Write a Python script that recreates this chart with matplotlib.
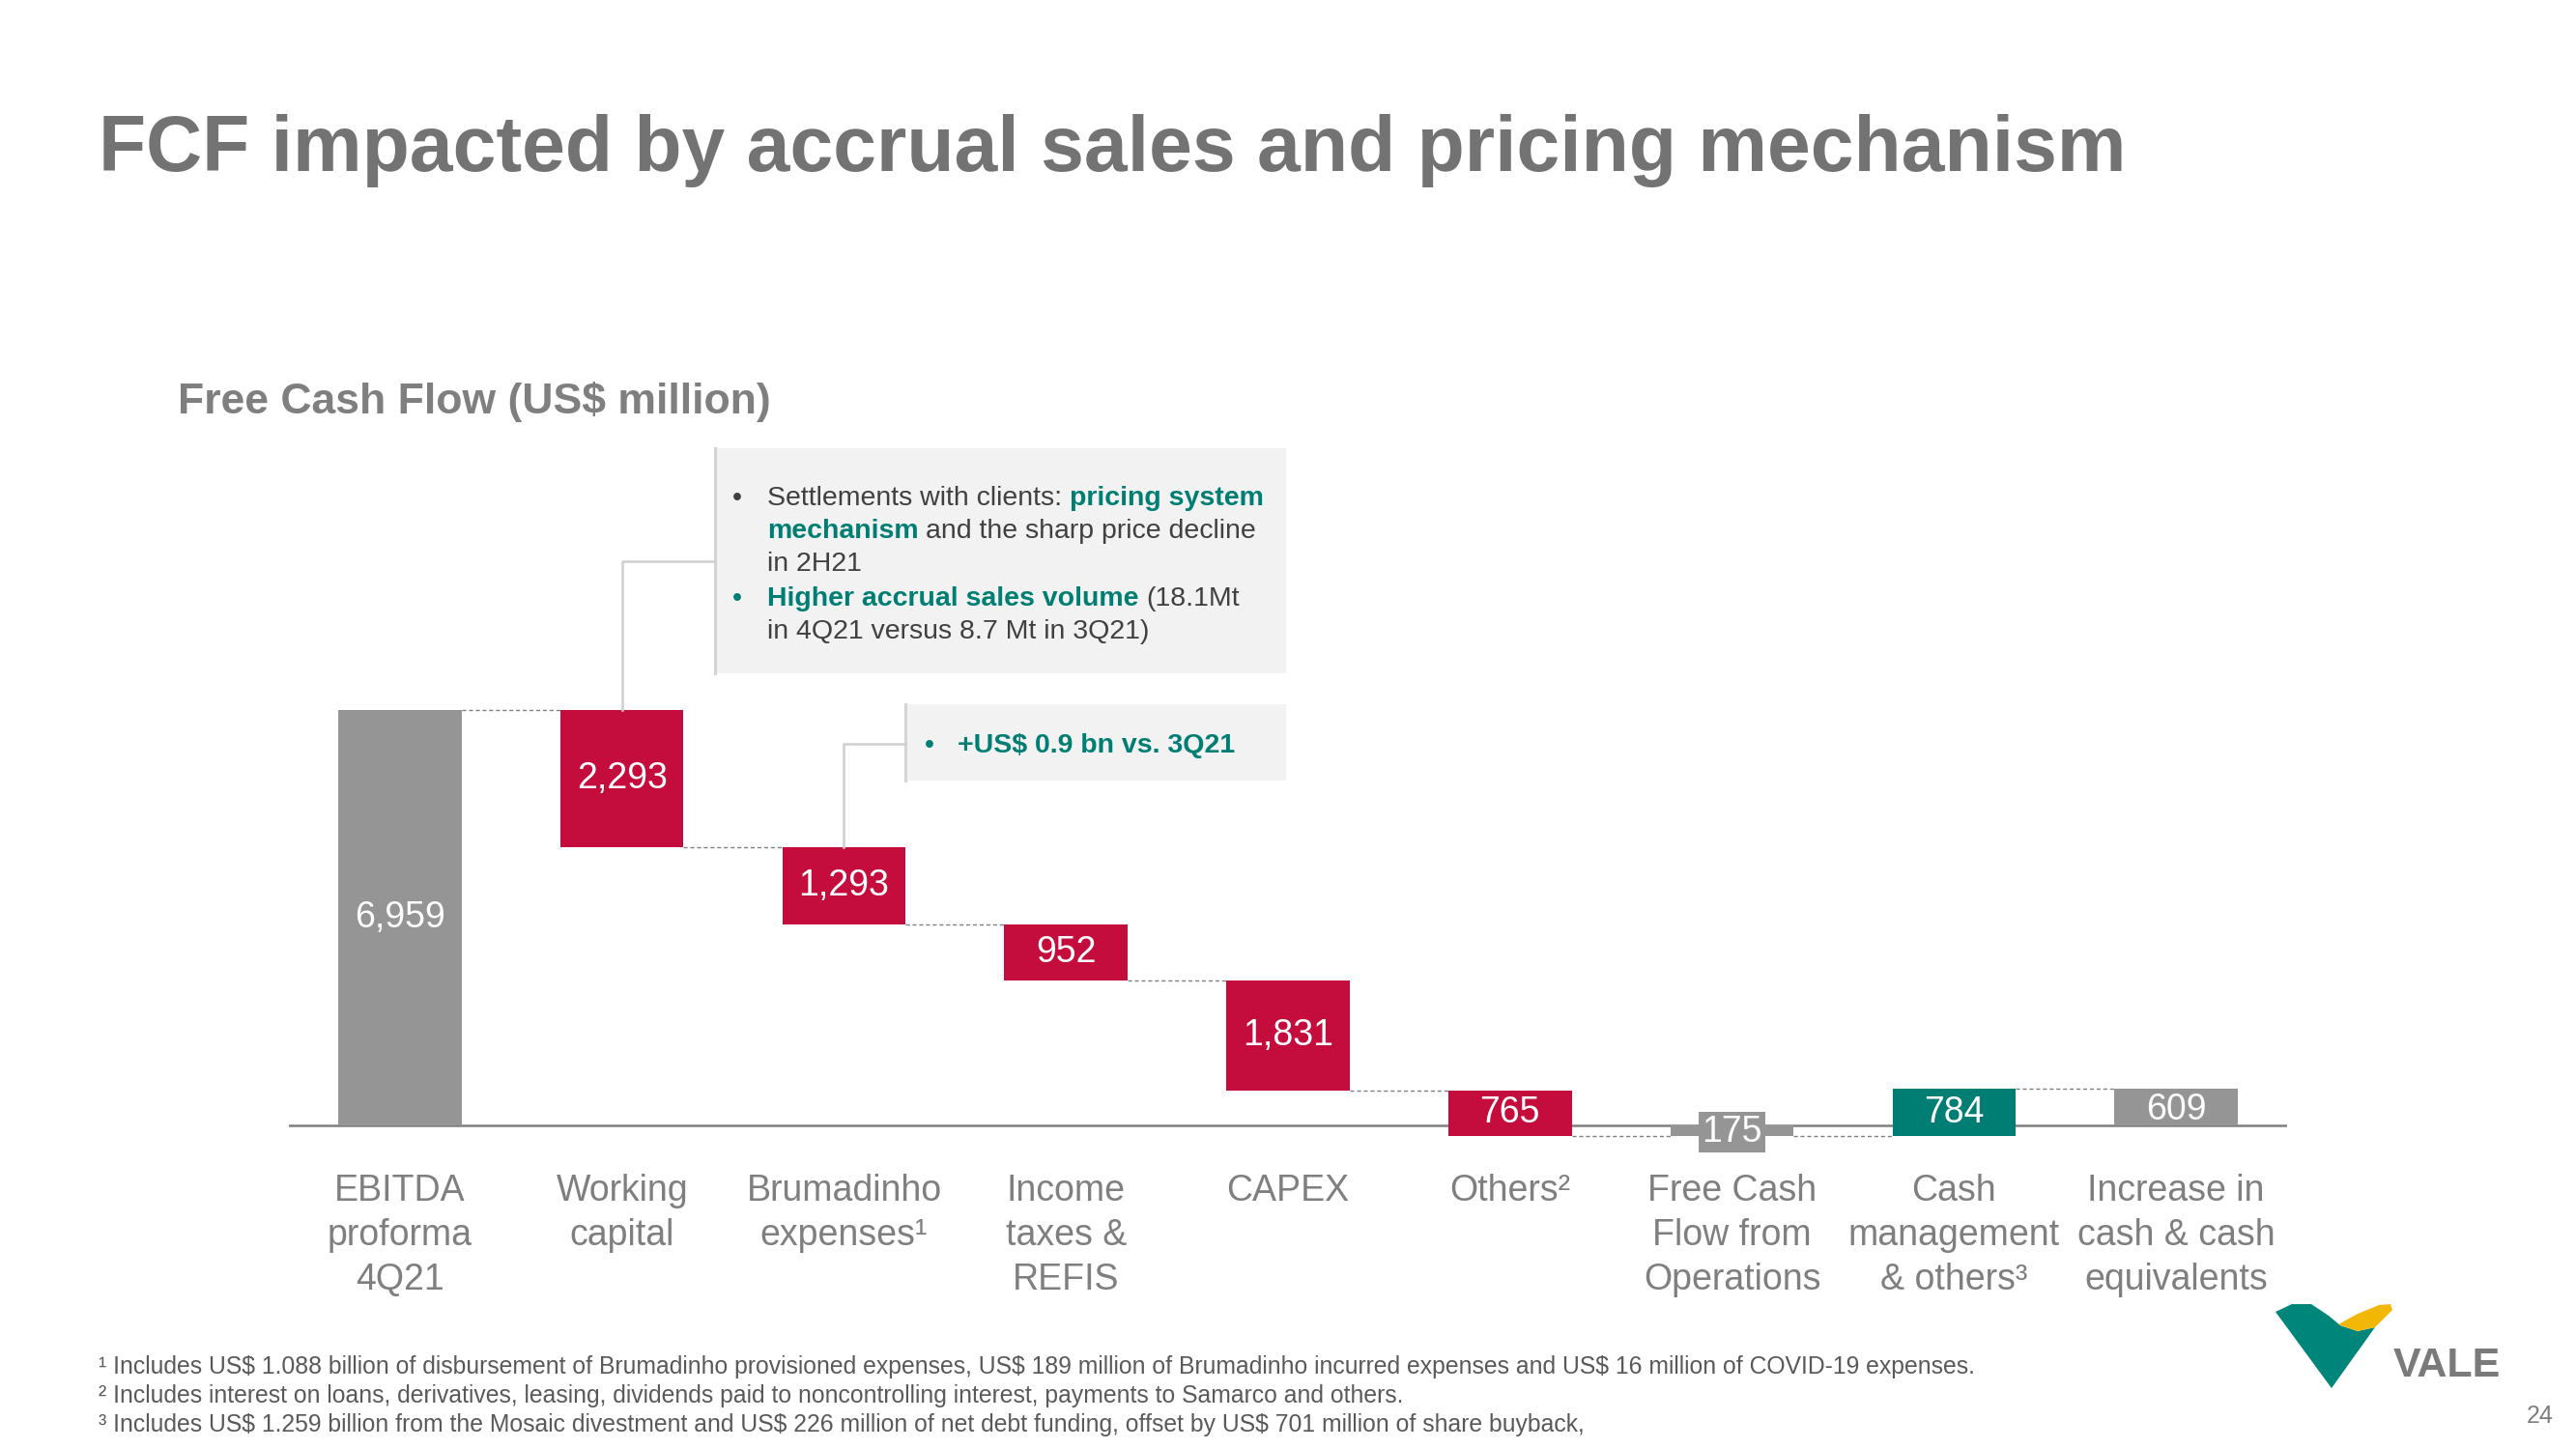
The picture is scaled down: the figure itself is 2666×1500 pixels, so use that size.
import matplotlib
matplotlib.use("Agg")
import matplotlib.pyplot as plt
from matplotlib.patches import Rectangle, Polygon
from matplotlib.lines import Line2D
from matplotlib import transforms

# data
categories = ["EBITDA\nproforma\n4Q21", "Working\ncapital", "Brumadinho\nexpenses¹",
              "Income\ntaxes &\nREFIS", "CAPEX", "Others²", "Free Cash\nFlow from\nOperations",
              "Cash\nmanagement\n& others³", "Increase in\ncash & cash\nequivalents"]
values = [6959, -2293, -1293, -952, -1831, -765, -175, 784, 609]
is_total = [True, False, False, False, False, False, True, False, True]

footnotes = [
    "¹ Includes US$ 1.088 billion of disbursement of Brumadinho provisioned expenses, US$ 189 million of Brumadinho incurred expenses and US$ 16 million of COVID-19 expenses.",
    "² Includes interest on loans, derivatives, leasing, dividends paid to noncontrolling interest, payments to Samarco and others.",
    "³ Includes US$ 1.259 billion from the Mosaic divestment and US$ 226 million of net debt funding, offset by US$ 701 million of share buyback,",
]

W, H = 2666, 1500
GRAY = "#959595"
RED = "#C40D3C"
TEAL = "#007E74"
TXT = "#7F7F7F"
DARK = "#404040"

plt.rcParams['font.family'] = ['Liberation Sans', 'DejaVu Sans']

fig = plt.figure(figsize=(W / 100, H / 100), dpi=100)
renderer = fig.canvas.get_renderer()


def fx(x):
    return x / W


def fy(y):
    return 1 - y / H


# main axes: baseline at y=1165 px, 0.0618 px per unit
ax = fig.add_axes([299 / W, 1 - 1226.8 / H, (2367 - 299) / W, 556 / H])
ax.set_xlim(-0.5, 8.5)
ax.set_ylim(-1000, 8000)
ax.axis('off')

bw = 0.555
bottoms, colors, levels = [], [], []
run = 0
for v, tot in zip(values, is_total):
    if tot:
        bottoms.append(0)
        run = v
        colors.append(GRAY)
    else:
        bottoms.append(run)
        run += v
        colors.append(TEAL if v > 0 else RED)
    levels.append(run)

ax.plot([-0.5, 8.5], [0, 0], color="#808080", lw=1.8, zorder=1)
ax.bar(range(len(values)), values, bottom=bottoms, width=bw, color=colors, zorder=2)

for i in range(len(values) - 1):
    ax.plot([i + bw / 2, i + 1 - bw / 2], [levels[i], levels[i]], color="#808080",
            lw=1, ls=(0, (3, 2)), zorder=1)

for i, v in enumerate(values):
    yc = bottoms[i] + v / 2
    kw = {}
    if i == 6:
        kw['bbox'] = dict(boxstyle='square,pad=0.08', fc=GRAY, ec='none')
        yc = -110
    if i == 8:
        yc -= 40
    ax.text(i, yc, f"{abs(v):,}", ha='center', va='center', color='white',
            fontsize=27, zorder=3, **kw)

trans = transforms.blended_transform_factory(ax.transData, fig.transFigure)
for i, c in enumerate(categories):
    ax.text(i, fy(1215), c, transform=trans, ha='center', va='top', ma='center',
            fontsize=27, color=TXT, linespacing=1.36)

# title and subtitle
fig.text(fx(102), fy(177), "FCF impacted by accrual sales and pricing mechanism",
         fontsize=58, fontweight='bold', color="#737373", va='baseline')
fig.text(fx(184), fy(428), "Free Cash Flow (US$ million)", fontsize=32,
         fontweight='bold', color="#7F7F7F", va='baseline')


# callout boxes
def box(x0, y0, x1, y1):
    fig.add_artist(Rectangle((fx(x0), fy(y1)), fx(x1 - x0), (y1 - y0) / H,
                             transform=fig.transFigure, fc="#F2F2F2", ec='none'))
    fig.add_artist(Line2D([fx(x0), fx(x0)], [fy(y0), fy(y1)], transform=fig.transFigure,
                          color="#D4D4D4", lw=2.2))


def connector(i, level, y_px, x_end):
    xp, yp = ax.transData.transform((i, level))
    yb = H - yp
    fig.add_artist(Line2D([fx(xp), fx(xp), fx(x_end)], [fy(yb), fy(y_px), fy(y_px)],
                          transform=fig.transFigure, color="#CFCFCF", lw=1.8))


box(740, 464, 1331, 697)
box(937, 729, 1331, 808)
connector(1, 6959, 581, 740)
connector(2, 4666, 770, 937)


def text_w(s, size, weight):
    t = fig.text(0, 0, s, fontsize=size, fontweight=weight)
    w = t.get_window_extent(renderer).width
    t.remove()
    return w


def rich_line(x, y, runs, size):
    sp = text_w("a a", size, 'normal') - text_w("aa", size, 'normal')
    for s, bold, col in runs:
        w8 = 'bold' if bold else 'normal'
        x += (len(s) - len(s.lstrip())) * sp
        t = fig.text(fx(x), fy(y), s.strip(), fontsize=size, fontweight=w8,
                     color=col, va='baseline')
        x += t.get_window_extent(renderer).width
        x += (len(s) - len(s.rstrip())) * sp


FS = 20.5
fig.text(fx(758), fy(523), "•", fontsize=FS, color=DARK, va='baseline')
rich_line(794, 523, [("Settlements with clients: ", False, DARK), ("pricing system", True, TEAL)], FS)
rich_line(794, 557, [("mechanism", True, TEAL), (" and the sharp price decline", False, DARK)], FS)
rich_line(794, 591, [("in 2H21", False, DARK)], FS)
fig.text(fx(758), fy(627), "•", fontsize=FS, color=TEAL, va='baseline')
rich_line(794, 627, [("Higher accrual sales volume", True, TEAL), (" (18.1Mt", False, DARK)], FS)
rich_line(794, 661, [("in 4Q21 versus 8.7 Mt in 3Q21)", False, DARK)], FS)

fig.text(fx(957), fy(779), "•", fontsize=FS, color=TEAL, va='baseline')
rich_line(991, 779, [("+US$ 0.9 bn vs. 3Q21", True, TEAL)], FS)

# footnotes
for line, yb in zip(footnotes, [1422, 1452, 1482]):
    fig.text(fx(102), fy(yb), line, fontsize=17.8, color="#595959", va='baseline')

# page number and logo
fig.text(fx(2643), fy(1473), "24", fontsize=18, color="#7F7F7F", ha='right', va='baseline')
teal_v = [(2355, 1358), (2372, 1350), (2392, 1350), (2410, 1362), (2422, 1372),
          (2440, 1378), (2458, 1374), (2413, 1437)]
yellow = [(2420, 1371), (2440, 1360), (2462, 1351), (2474, 1350), (2476, 1356),
          (2466, 1366), (2458, 1374), (2440, 1378)]
for pts, col in [(teal_v, "#00857A"), (yellow, "#F2B705")]:
    fig.add_artist(Polygon([(fx(a), fy(b)) for a, b in pts], closed=True,
                           transform=fig.transFigure, fc=col, ec='none'))
fig.text(fx(2477), fy(1425), "VALE", fontsize=31, fontweight='bold', color="#7A7A7A",
         va='baseline')

fig.savefig("out.png", dpi=100)
